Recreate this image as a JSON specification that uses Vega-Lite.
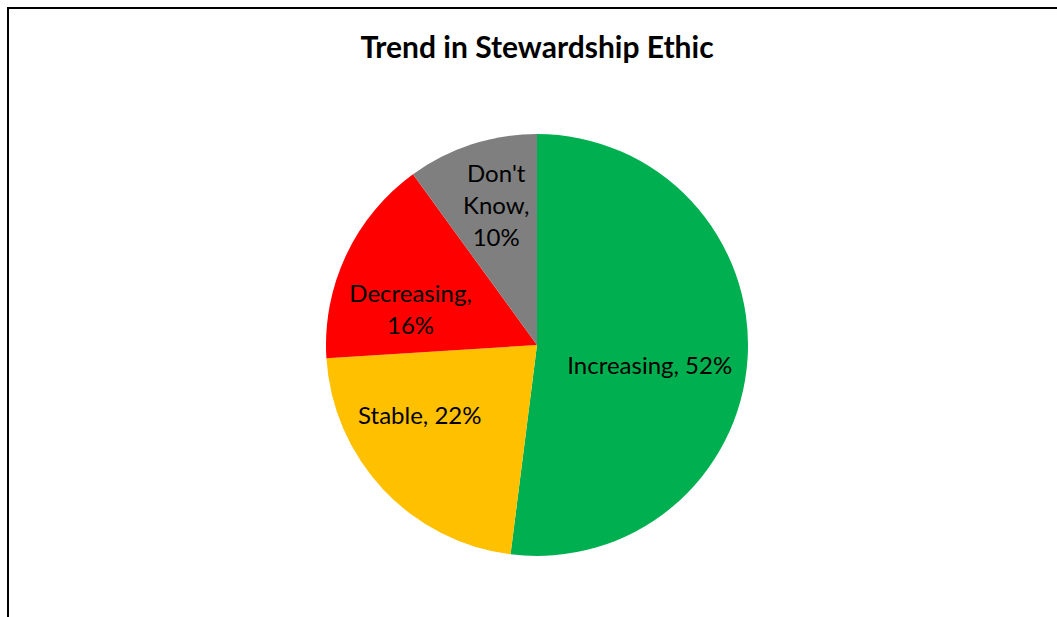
{
  "$schema": "https://vega.github.io/schema/vega-lite/v6.json",
  "width": 1057,
  "height": 617,
  "autosize": {"type": "fit", "contains": "padding"},
  "padding": {"left": 7, "top": 7, "right": -10, "bottom": -66},
  "background": "white",
  "config": {"view": {"stroke": null}},
  "title": {
    "text": "Trend in Stewardship Ethic",
    "offset": -81,
    "baseline": "alphabetic",
    "anchor": "middle",
    "font": "Lato",
    "fontWeight": "bold",
    "fontSize": 30,
    "color": "#000000"
  },
  "data": {
    "values": [
      {"category": "Increasing", "percent": 52, "rank": 1, "label": "Increasing, 52%"},
      {"category": "Stable", "percent": 22, "rank": 2, "label": "Stable, 22%"},
      {"category": "Decreasing", "percent": 16, "rank": 3, "label": "Decreasing,\n16%"},
      {"category": "Don't Know", "percent": 10, "rank": 4, "label": "Don't\nKnow,\n10%"}
    ]
  },
  "layer": [
    {
      "data": {"values": [{"frame": 1}]},
      "mark": {"type": "rect", "fill": null, "stroke": "#000000", "strokeWidth": 2},
      "encoding": {}
    },
    {
      "mark": {"type": "arc", "outerRadius": 211},
      "encoding": {
        "theta": {"field": "percent", "type": "quantitative", "stack": true, "scale": {"domain": [0, 100]}},
        "order": {"field": "rank", "type": "quantitative"},
        "color": {
          "field": "category",
          "type": "nominal",
          "scale": {
            "domain": ["Increasing", "Stable", "Decreasing", "Don't Know"],
            "range": ["#00B050", "#FFC000", "#FF0000", "#7F7F7F"]
          },
          "legend": null
        }
      }
    },
    {
      "transform": [
        {"stack": "percent", "groupby": [], "sort": [{"field": "rank"}], "as": ["p0", "p1"]},
        {"calculate": "(datum.p0 + datum.p1) / 2", "as": "mid"},
        {"filter": "datum.category === 'Increasing'"}
      ],
      "mark": {"type": "text", "radius": 132, "dx": -19, "dy": 14, "font": "Lato", "fontSize": 24, "lineHeight": 32, "lineBreak": "\n", "color": "#000000"},
      "encoding": {
        "theta": {"field": "mid", "type": "quantitative", "stack": null},
        "text": {"field": "label", "type": "nominal"}
      }
    },
    {
      "transform": [
        {"stack": "percent", "groupby": [], "sort": [{"field": "rank"}], "as": ["p0", "p1"]},
        {"calculate": "(datum.p0 + datum.p1) / 2", "as": "mid"},
        {"filter": "datum.category === 'Stable'"}
      ],
      "mark": {"type": "text", "radius": 132, "dx": -21, "dy": -18, "font": "Lato", "fontSize": 24, "lineHeight": 32, "lineBreak": "\n", "color": "#000000"},
      "encoding": {
        "theta": {"field": "mid", "type": "quantitative", "stack": null},
        "text": {"field": "label", "type": "nominal"}
      }
    },
    {
      "transform": [
        {"stack": "percent", "groupby": [], "sort": [{"field": "rank"}], "as": ["p0", "p1"]},
        {"calculate": "(datum.p0 + datum.p1) / 2", "as": "mid"},
        {"filter": "datum.category === 'Decreasing'"}
      ],
      "mark": {"type": "text", "radius": 132, "dx": -7, "dy": 6, "font": "Lato", "fontSize": 24, "lineHeight": 32, "lineBreak": "\n", "color": "#000000"},
      "encoding": {
        "theta": {"field": "mid", "type": "quantitative", "stack": null},
        "text": {"field": "label", "type": "nominal"}
      }
    },
    {
      "transform": [
        {"stack": "percent", "groupby": [], "sort": [{"field": "rank"}], "as": ["p0", "p1"]},
        {"calculate": "(datum.p0 + datum.p1) / 2", "as": "mid"},
        {"filter": "datum.category === \"Don't Know\""}
      ],
      "mark": {"type": "text", "radius": 132, "dx": 0, "dy": -44, "font": "Lato", "fontSize": 24, "lineHeight": 32, "lineBreak": "\n", "color": "#000000"},
      "encoding": {
        "theta": {"field": "mid", "type": "quantitative", "stack": null},
        "text": {"field": "label", "type": "nominal"}
      }
    }
  ]
}
